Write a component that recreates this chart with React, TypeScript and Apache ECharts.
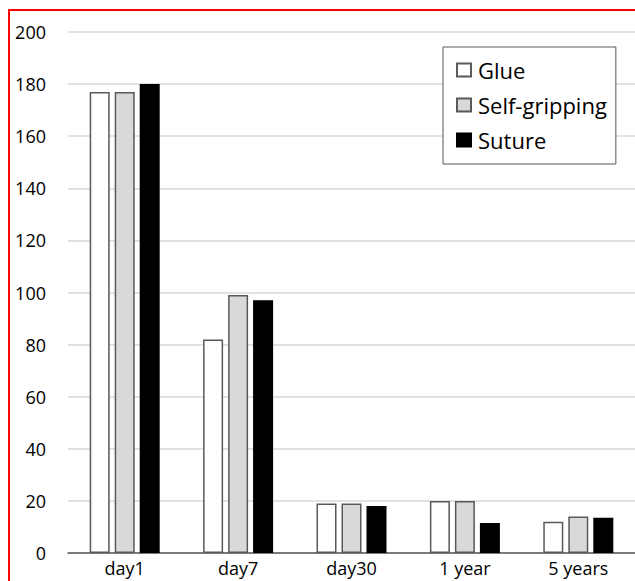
import React, { useEffect, useRef } from "react";
import * as echarts from "echarts";

const categories = ["day1", "day7", "day30", "1 year", "5 years"];
const glue = [177, 82, 19, 20, 12];
const selfGripping = [177, 99, 19, 20, 14];
const suture = [180, 97, 18, 11.5, 13.5];
const seriesNames = ["Glue", "Self-gripping", "Suture"];

export default function App() {
  const ref = useRef<HTMLDivElement>(null);
  useEffect(() => {
    if (!ref.current) return;
    const chart = echarts.init(ref.current, undefined, { renderer: "svg" });
    const font = "'Open Sans', sans-serif";
    const bar = (name: string, data: number[], fill: string, border: string) => ({
      name,
      type: "bar",
      data,
      barWidth: 20,
      barGap: "25%",
      itemStyle: { color: fill, borderColor: border, borderWidth: 1.5 },
    });
    chart.setOption({
      animation: false,
      backgroundColor: "#fff",
      grid: { left: 68, right: 0, top: 32, bottom: 28 },
      legend: {
        orient: "vertical",
        left: 443,
        top: 47,
        padding: [12, 9, 13, 13],
        itemGap: 13,
        itemWidth: 14,
        itemHeight: 13,
        icon: "rect",
        borderColor: "#595959",
        borderWidth: 1,
        backgroundColor: "#fff",
        textStyle: { fontFamily: font, fontSize: 22, lineHeight: 22, color: "#000", padding: [0, 0, 0, 2] },
        data: seriesNames,
      },
      xAxis: {
        type: "category",
        data: categories,
        axisLine: { lineStyle: { color: "#595959", width: 1.5 } },
        axisTick: { show: false },
        axisLabel: { fontFamily: font, fontSize: 18, lineHeight: 20, color: "#000", margin: 5 },
      },
      yAxis: {
        type: "value",
        min: 0,
        max: 200,
        interval: 20,
        axisLine: { show: false },
        axisTick: { show: false },
        splitLine: { lineStyle: { color: "#d9d9d9", width: 1.5 } },
        axisLabel: { fontFamily: font, fontSize: 18, color: "#000", margin: 22 },
      },
      graphic: [
        {
          type: "rect",
          shape: { x: 9, y: 10, width: 800, height: 800 },
          style: { fill: "none", stroke: "#ff0000", lineWidth: 2 },
          z: 100,
        },
      ],
      series: [
        bar(seriesNames[0], glue, "#ffffff", "#595959"),
        bar(seriesNames[1], selfGripping, "#d9d9d9", "#595959"),
        bar(seriesNames[2], suture, "#000000", "#000000"),
      ],
    });
    return () => chart.dispose();
  }, []);
  return (
    <div
      ref={ref}
      style={{ position: "fixed", left: 0, top: 0, width: 635, height: 581 }}
    />
  );
}
